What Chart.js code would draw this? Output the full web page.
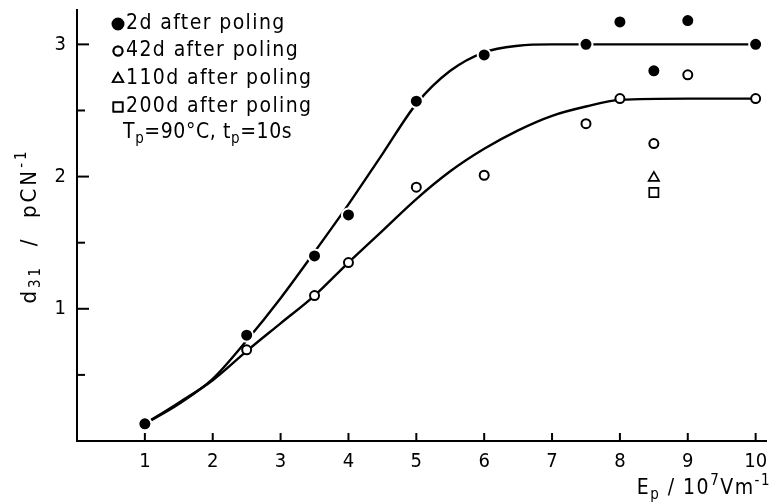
<!DOCTYPE html>
<html><head><meta charset="utf-8">
<script src="https://cdn.jsdelivr.net/npm/chart.js@4.4.1/dist/chart.umd.min.js"></script>
<style>html,body{margin:0;padding:0;background:#fff;}canvas{display:block;}</style>
</head><body>
<canvas id="c" width="775" height="503"></canvas>
<script>
// ---- data ----
const xTickValues = [1,2,3,4,5,6,7,8,9,10];
const yTickValues = [0.5,1,1.5,2,2.5,3];
const yMajorTicks = [1,2,3];

const ep2d   = [1, 2.5, 3.5, 4, 5, 6, 7.5, 8, 8.5, 9, 10];
const d31_2d = [0.13, 0.80, 1.40, 1.71, 2.57, 2.92, 3.00, 3.17, 2.80, 3.18, 3.00];

const ep42d   = [2.5, 3.5, 4, 5, 6, 7.5, 8, 8.5, 9, 10];
const d31_42d = [0.69, 1.10, 1.35, 1.92, 2.01, 2.40, 2.59, 2.25, 2.77, 2.59];

const ep110d = [8.5];  const d31_110d = [1.99];
const ep200d = [8.5];  const d31_200d = [1.88];

// hand-drawn fitted curves
const fitX2d = [1,1.5,2,2.5,3,3.5,4,4.5,5,5.5,6,6.5,7,8,9,10];
const fit2d  = [0.13,0.28,0.47,0.76,1.08,1.43,1.79,2.17,2.55,2.80,2.94,2.99,3.0,3.0,3.0,3.0];
const fitX42d = [1,1.5,2,2.5,3,3.5,4,4.5,5,5.5,6,6.5,7,7.5,8,9,10];
const fit42d  = [0.13,0.29,0.46,0.68,0.89,1.10,1.35,1.59,1.83,2.04,2.21,2.35,2.46,2.53,2.58,2.59,2.59];

const legendLabels = ['2d after poling','42d after poling','110d after poling','200d after poling'];

const FONT = '"DejaVu Sans Condensed","Liberation Sans Narrow",sans-serif';
const pts = (xs, ys) => xs.map((x,i)=>({x, y: ys[i]}));

const markerStyles = [
  {pointStyle:'circle', radius:6.5, bg:'#000', border:'#fff', bw:2},
  {pointStyle:'circle', radius:4.5, bg:'#fff', border:'#000', bw:2},
  {pointStyle:'triangle', radius:6, bg:'#fff', border:'#000', bw:1.7},
  {pointStyle:'rect', radius:6.5, bg:'#fff', border:'#000', bw:1.7}
];

function scatterSet(label, xs, ys, m){
  return {type:'scatter', label, data: pts(xs, ys), showLine:false, order:1,
    pointStyle:m.pointStyle, pointRadius:m.radius, pointHoverRadius:m.radius,
    backgroundColor:m.bg, borderColor:m.border, pointBorderWidth:m.bw, borderWidth:m.bw};
}
function curveSet(xs, ys){
  return {type:'line', data: pts(xs, ys), showLine:true, order:2, pointRadius:0,
    borderColor:'#000', borderWidth:2.4, fill:false, cubicInterpolationMode:'monotone'};
}

function textSpaced(ctx, str, x, y, spacing){
  ctx.letterSpacing = spacing + 'px';
  ctx.fillText(str, x, y);
  const w = ctx.measureText(str).width;
  ctx.letterSpacing = '0px';
  return w;
}
function richText(ctx, parts, x, y, size, spacing){
  let cx = x;
  for (const [t, k] of parts){
    const s = k==='n' ? size : Math.round(size*0.7);
    const dy = k==='b' ? size*0.3 : (k==='p' ? -size*0.38 : 0);
    ctx.font = s + 'px ' + FONT;
    cx += textSpaced(ctx, t, cx, y+dy, spacing);
  }
  return cx - x;
}
function measureRich(ctx, parts, size, spacing){
  let w = 0;
  for (const [t,k] of parts){
    const s = k==='n' ? size : Math.round(size*0.7);
    ctx.font = s + 'px ' + FONT;
    ctx.letterSpacing = spacing+'px';
    w += ctx.measureText(t).width;
    ctx.letterSpacing = '0px';
  }
  return w;
}

function drawMarker(ctx, m, x, y){
  ctx.save();
  ctx.lineWidth = m.bw;
  ctx.strokeStyle = '#000';
  ctx.fillStyle = m.bg;
  const r = m.border==='#fff' ? m.radius-1 : m.radius;
  Chart.helpers.drawPoint(ctx, {pointStyle:m.pointStyle, radius:r, rotation:0, borderWidth:m.bw}, x, y);
  ctx.fill();
  if (m.border !== '#fff') ctx.stroke();
  ctx.restore();
}

const decorPlugin = {
  id:'decor',
  afterDraw(chart){
    const ctx = chart.ctx;
    const xs = chart.scales.x, ys = chart.scales.y;
    const y0 = ys.getPixelForValue(0), x0 = xs.getPixelForValue(0);
    ctx.save();
    ctx.strokeStyle = '#000'; ctx.lineWidth = 2;
    for (const v of xTickValues){
      const px = xs.getPixelForValue(v);
      ctx.beginPath(); ctx.moveTo(px, y0); ctx.lineTo(px, y0-8); ctx.stroke();
    }
    for (const v of yTickValues){
      const py = ys.getPixelForValue(v);
      const len = yMajorTicks.includes(v) ? 12 : 8;
      ctx.beginPath(); ctx.moveTo(x0, py); ctx.lineTo(x0+len, py); ctx.stroke();
    }
    // legend
    ctx.fillStyle = '#000'; ctx.textBaseline = 'middle'; ctx.textAlign='left';
    const lx = 118, rows = [24, 51, 79, 107];
    legendLabels.forEach((lab, i) => {
      drawMarker(ctx, markerStyles[i], lx, rows[i]);
      ctx.fillStyle = '#000';
      ctx.font = '21px ' + FONT;
      textSpaced(ctx, lab, lx+8, rows[i], 1.4);
    });
    richText(ctx, [['T','n'],['p','b'],['=90°C, t','n'],['p','b'],['=10s','n']], 123, 133, 21, 0.6);
    // axis titles
    const xt = [['E','n'],['p','b'],[' / 10','n'],['7','p'],['Vm','n'],['-1','p']];
    const wx = measureRich(ctx, xt, 21, 1.5);
    richText(ctx, xt, 771 - wx, 489, 21, 1.5);
    const yt = [['d','n'],['31','b'],['  /  pCN','n'],['-1','p']];
    const wy = measureRich(ctx, yt, 22, 3);
    ctx.translate(30, 226); ctx.rotate(-Math.PI/2);
    richText(ctx, yt, -wy/2, 0, 22, 3);
    ctx.restore();
  }
};

new Chart(document.getElementById('c'), {
  data: {
    datasets: [
      scatterSet(legendLabels[0], ep2d, d31_2d, markerStyles[0]),
      scatterSet(legendLabels[1], ep42d, d31_42d, markerStyles[1]),
      scatterSet(legendLabels[2], ep110d, d31_110d, markerStyles[2]),
      scatterSet(legendLabels[3], ep200d, d31_200d, markerStyles[3]),
      curveSet(fitX2d, fit2d),
      curveSet(fitX42d, fit42d)
    ]
  },
  options: {
    responsive:false, animation:false, devicePixelRatio:1,
    layout:{padding:{top:10, right:3, left:0, bottom:0}},
    plugins:{legend:{display:false}, tooltip:{enabled:false}},
    scales:{
      x:{type:'linear', min:0, max:10.16,
        afterBuildTicks(s){ s.ticks = xTickValues.map(v=>({value:v})); },
        afterFit(s){ s.height = 62; s.paddingLeft = 0; s.paddingRight = 0; },
        grid:{display:false, drawTicks:false},
        border:{display:true, color:'#000', width:2},
        ticks:{color:'#000', padding:9, maxRotation:0, autoSkip:false, font:{family:FONT, size:20},
          callback:(v)=> String(v)}
      },
      y:{type:'linear', min:0, max:3.26,
        afterBuildTicks(s){ s.ticks = yMajorTicks.map(v=>({value:v})); },
        afterFit(s){ s.width = 77; s.paddingTop = 0; s.paddingBottom = 0; },
        grid:{display:false, drawTicks:false},
        border:{display:true, color:'#000', width:2},
        ticks:{color:'#000', padding:11, autoSkip:false, font:{family:FONT, size:20},
          callback:(v)=> String(v)}
      }
    }
  },
  plugins:[decorPlugin]
});
</script>
</body></html>
